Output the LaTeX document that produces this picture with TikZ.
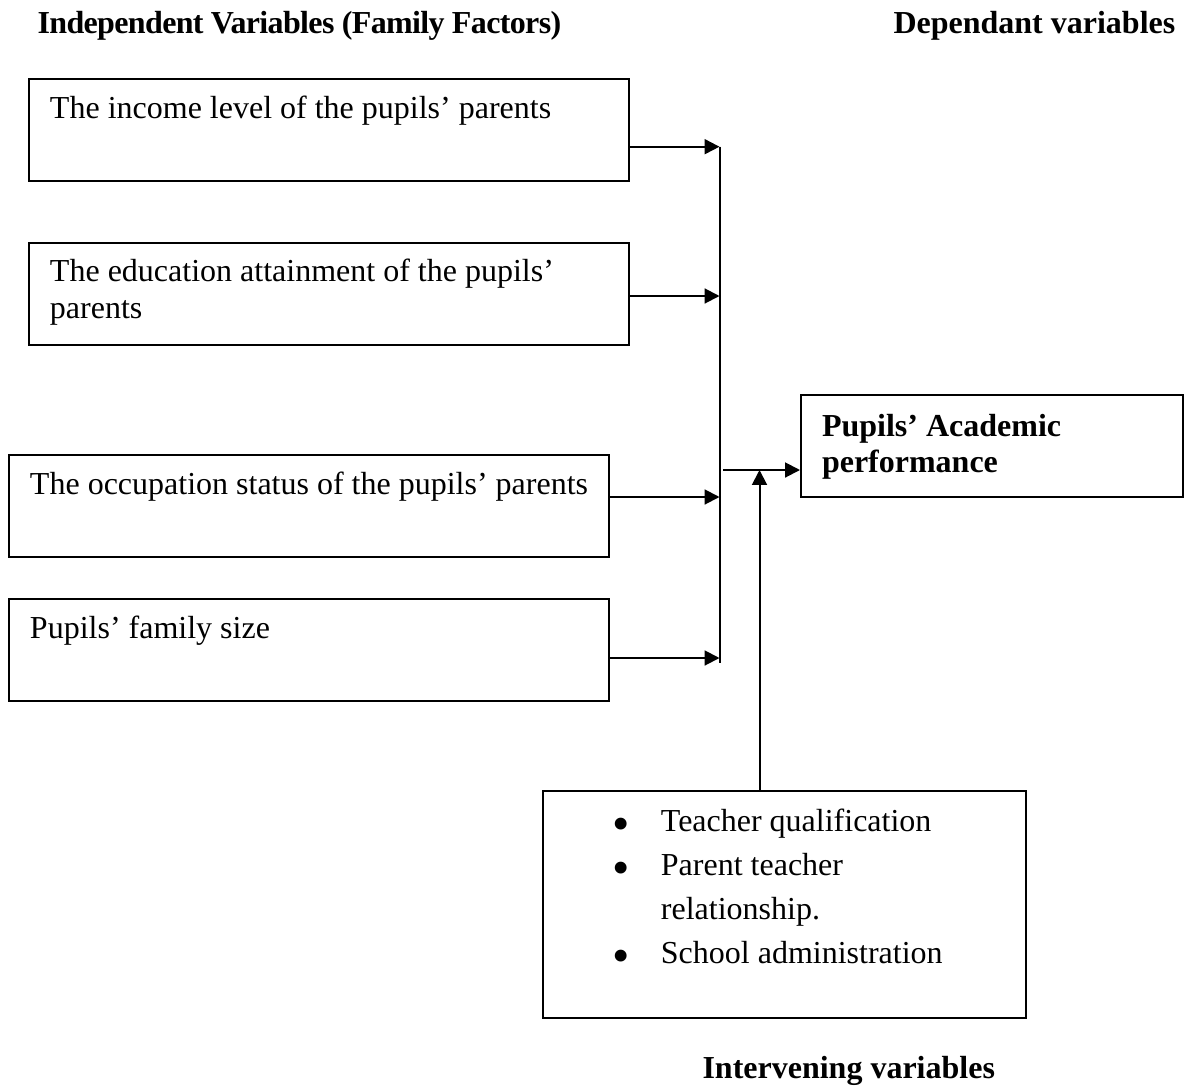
\documentclass[tikz,border=0pt]{standalone}
\usepackage{fontspec}
\setmainfont{Liberation Serif}
\usepackage{tikz}
\usetikzlibrary{arrows.meta}

\newcommand{\ivbullet}{\hspace*{18pt}\makebox[18.35pt][l]{\smash{\raisebox{-3.3pt}{\scalebox{1.55}{\textbullet}}}}}

\begin{document}
\begin{tikzpicture}[
	x=0.375pt, y=-0.375pt,
	every node/.style={font=\fontsize{12pt}{13.8pt}\selectfont, inner sep=0pt},
	heading/.style={font=\fontsize{12pt}{13.8pt}\selectfont\bfseries, anchor=base west},
	factorbox/.style={draw, line width=0.75pt, anchor=base west,
		execute at begin node={\spaceskip=0.25em\relax},
		inner xsep=7.875pt, inner ysep=0pt, text width=209.25pt,
		text height=14.6pt, text depth=23.6pt},
	link/.style={line width=0.75pt, -{Triangle[length=5.6pt,width=5.6pt]}}
	]
	
	\useasboundingbox (0,0) rectangle (1186,1086);
	
	% headings
	\node[heading] (indephead) at (37,33) {\addfontfeatures{LetterSpace=-2}Independent Variables (Family Factors)};
	\node[heading] (dephead) at (893,33) {Dependant variables};
	\node[heading] (interhead) at (702,1078) {Intervening variables};
	
	% family factors
	\node[factorbox] (income) at (28,118) {\mbox{The income level of the pupils' parents}};
	\node[factorbox] (educ) at (28,281.7) {\mbox{The education attainment of the pupils'}\\parents};
	\node[factorbox] (occup) at (8,494) {\mbox{The occupation status of the pupils' parents}};
	\node[factorbox] (famsize) at (8,638) {Pupils' family size};
	
	% dependant variable
	\node[factorbox, font=\fontsize{12pt}{13.8pt}\selectfont\bfseries, text width=127.5pt,
		text height=15.4pt, text depth=22.9pt] (perf) at (800,436) {Pupils' Academic\\performance};
	
	% intervening variables
	\node[factorbox, font=\fontsize{12pt}{16.5pt}\selectfont, text width=165.4pt,
		text height=15.4pt, text depth=70pt] (interv) at (542,831.7)
		{\ivbullet Teacher qualification\\
		 \ivbullet Parent teacher\\
		 \hspace*{36.35pt}relationship.\\
		 \ivbullet School administration};
	
	% collecting bar
	\coordinate (b1) at (719.5,146.7);
	\coordinate (b2) at (719.5,296);
	\coordinate (b3) at (719.5,497);
	\coordinate (b4) at (719.5,658);
	\coordinate (barend) at (719.5,662.5);
	\coordinate (joint) at (723,470);
	\coordinate (tip) at (759.5,470);
	
	\draw[link] (income.east |- b1) -- (b1);
	\draw[link] (educ.east |- b2) -- (b2);
	\draw[link] (occup.east |- b3) -- (b3);
	\draw[link] (famsize.east |- b4) -- (b4);
	\draw[line width=0.75pt] (b1) -- (barend);
	
	\draw[link] (joint) -- (joint -| perf.west);
	\draw[link] (tip |- interv.north) -- (tip);
	
\end{tikzpicture}
\end{document}
